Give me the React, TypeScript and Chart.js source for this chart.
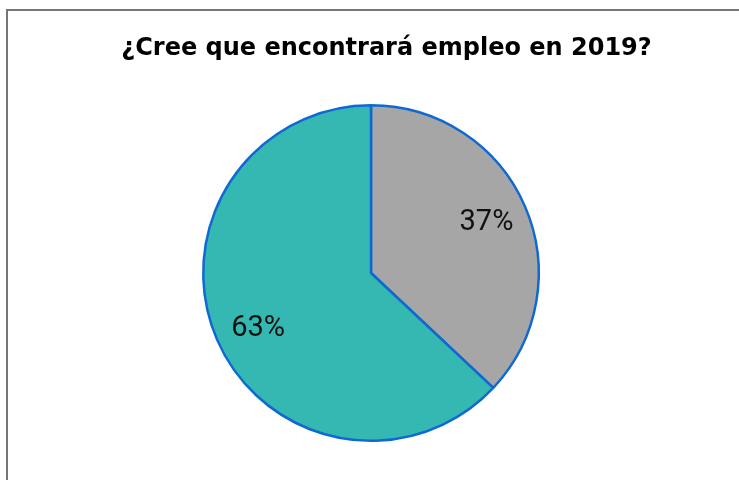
import React, { useEffect, useRef } from "react";
import { Chart, registerables } from "chart.js";

Chart.register(...registerables);

const title = "¿Cree que encontrará empleo en 2019?";
const categories = ["No", "Sí"];
const values = [37, 63];
const labels = ["37%", "63%"];
const colors = ["#A6A6A6", "#35B8B1"];

export default function App() {
  const ref = useRef<HTMLCanvasElement | null>(null);

  useEffect(() => {
    if (!ref.current) return;
    const framePlugin = {
      id: "frame",
      beforeDraw(chart: any) {
        const ctx = chart.ctx;
        ctx.save();
        ctx.fillStyle = "#ffffff";
        ctx.fillRect(0, 0, chart.width, chart.height);
        ctx.fillStyle = "#767676";
        ctx.fillRect(6, 9, chart.width - 6, 2);
        ctx.fillRect(6, 9, 2, chart.height - 9);
        ctx.fillStyle = "#000000";
        ctx.font = "bold 24px 'DejaVu Sans'";
        ctx.textAlign = "center";
        ctx.textBaseline = "alphabetic";
        ctx.fillText(title, 386.5, 55);
        ctx.restore();
      },
    };
    const labelPlugin = {
      id: "sliceLabels",
      afterDatasetsDraw(chart: any) {
        const ctx = chart.ctx;
        const meta = chart.getDatasetMeta(0);
        ctx.save();
        ctx.fillStyle = "#111111";
        ctx.font = "29px Roboto";
        ctx.textAlign = "center";
        ctx.textBaseline = "middle";
        meta.data.forEach((arc: any, i: number) => {
          const p = arc.getProps(["x", "y", "startAngle", "endAngle", "outerRadius"], true);
          const mid = (p.startAngle + p.endAngle) / 2 - (i === 1 ? 0.05 : 0);
          const r = p.outerRadius * 0.75;
          ctx.fillText(labels[i], p.x + Math.cos(mid) * r, p.y + Math.sin(mid) * r);
        });
        ctx.restore();
      },
    };
    const chart = new Chart(ref.current, {
      type: "pie",
      data: {
        labels: categories,
        datasets: [
          {
            data: values,
            backgroundColor: colors,
            borderColor: "#0F69D2",
            borderWidth: 2.5,
          },
        ],
      },
      options: {
        animation: false,
        responsive: false,
        maintainAspectRatio: false,
        layout: { padding: { top: 104, bottom: 38, left: 3, right: 0 } },
        plugins: {
          legend: { display: false },
          title: { display: false },
          tooltip: { enabled: false },
        },
      },
      plugins: [framePlugin, labelPlugin],
    });
    return () => chart.destroy();
  }, []);

  return (
    <div style={{ position: "absolute", left: 0, top: 0, width: 739, height: 480, overflow: "hidden" }}>
      <canvas ref={ref} width={739} height={480} style={{ display: "block", width: 739, height: 480 }} />
    </div>
  );
}
